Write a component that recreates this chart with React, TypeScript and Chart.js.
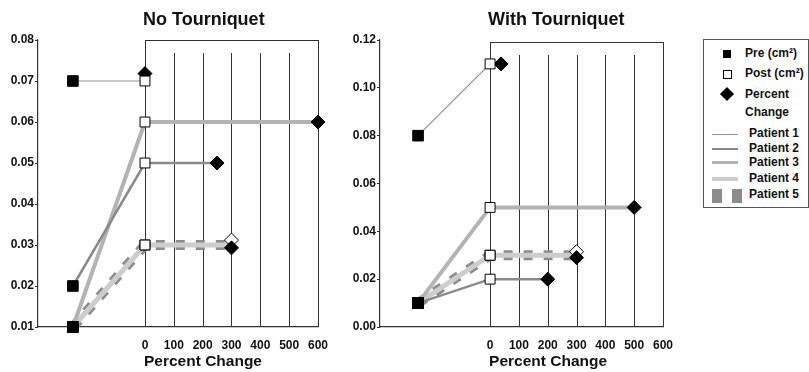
import React, { useEffect, useRef } from "react";
import { Chart, registerables } from "chart.js";
Chart.register(...registerables);

const FONT = "'Liberation Sans', Arial, Helvetica, sans-serif";
Chart.defaults.font.family = FONT;

const PATIENTS = ["Patient 1", "Patient 2", "Patient 3", "Patient 4", "Patient 5"];
const PRE_X = -250; // position of the "Pre" column on the percent-change scale
const PCT_TICKS = [0, 100, 200, 300, 400, 500, 600];

// No Tourniquet
const NO_PRE = [0.07, 0.02, 0.01, 0.01, 0.01];
const NO_POST = [0.07, 0.05, 0.06, 0.03, 0.03];
const NO_PCT = [0, 250, 600, 300, 300];
const NO_PCT_Y = [0.0718, 0.05, 0.06, 0.0312, 0.0293];
const NO_Y_TICKS = [0.01, 0.02, 0.03, 0.04, 0.05, 0.06, 0.07, 0.08];

// With Tourniquet
const WITH_PRE = [0.08, 0.01, 0.01, 0.01, 0.01];
const WITH_POST = [0.11, 0.02, 0.05, 0.03, 0.03];
const WITH_PCT = [38, 200, 500, 300, 300];
const WITH_PCT_Y = [0.11, 0.02, 0.05, 0.0315, 0.029];
const WITH_Y_TICKS = [0, 0.02, 0.04, 0.06, 0.08, 0.1, 0.12];

const LINE_COLORS = ["#939393", "#8a8a8a", "#b3b3b3", "#cdcdcd", "#8c8c8c"];
const LINE_WIDTHS = [1.2, 2.5, 4, 5, 10];
const LEGEND_WIDTHS = [1, 2, 3, 4];
const LINE_DASHES: number[][] = [[], [], [], [], [9, 11]];
const DIAMOND_FILLS = ["#000", "#000", "#000", "#fff", "#000"];

const decor = {
  id: "decor",
  beforeDatasetsDraw(chart: any, _a: any, opts: any) {
    const { ctx, chartArea, scales } = chart;
    const x = scales.x;
    ctx.save();
    ctx.strokeStyle = "#333";
    ctx.lineWidth = 1;
    const topY = chartArea.top + (opts.boxOffset || 0);
    PCT_TICKS.forEach((v, i) => {
      const px = Math.round(x.getPixelForValue(v)) + 0.5;
      const edge = i === 0 || i === PCT_TICKS.length - 1;
      ctx.beginPath();
      ctx.moveTo(px, edge ? topY : topY + 13);
      ctx.lineTo(px, chartArea.bottom);
      ctx.stroke();
    });
    ctx.beginPath();
    ctx.moveTo(Math.round(x.getPixelForValue(0)) + 0.5, Math.round(topY) + 0.5);
    ctx.lineTo(Math.round(x.getPixelForValue(600)) + 0.5, Math.round(topY) + 0.5);
    ctx.stroke();
    ctx.restore();
  },
  afterDraw(chart: any, _a: any, opts: any) {
    const { ctx, chartArea, scales } = chart;
    const x0 = scales.x.getPixelForValue(0) - 2;
    ctx.save();
    ctx.fillStyle = "#111";
    ctx.textAlign = "left";
    ctx.textBaseline = "middle";
    ctx.font = `bold 18px ${FONT}`;
    ctx.fillText(opts.title, x0, 20);
    ctx.font = `bold 15.5px ${FONT}`;
    ctx.fillText("Percent Change", x0 + 1, chartArea.bottom + 35);
    ctx.restore();
  },
};

type PanelProps = {
  title: string;
  pre: number[];
  post: number[];
  pct: number[];
  pctY: number[];
  yTicks: number[];
  xMin: number;
  yWidth: number;
  padRight: number;
  boxOffset: number;
  left: number;
  width: number;
};

function Panel(p: PanelProps) {
  const ref = useRef<HTMLCanvasElement>(null);
  useEffect(() => {
    const lineSets = PATIENTS.map((name, i) => ({
      label: name,
      data: [
        { x: PRE_X, y: p.pre[i] },
        { x: 0, y: p.post[i] },
        { x: p.pct[i], y: p.post[i] },
      ],
      showLine: true,
      pointRadius: 0,
      borderColor: LINE_COLORS[i],
      backgroundColor: LINE_COLORS[i],
      borderWidth: LINE_WIDTHS[i],
      borderDash: LINE_DASHES[i],
      borderCapStyle: "butt",
      order: i + 1,
      clip: false,
    }));
    const markerSets = [
      {
        label: "Post",
        data: p.post.map((v) => ({ x: 0, y: v })),
        pointStyle: "rect",
        pointRadius: 7,
        pointBackgroundColor: "#fff",
        pointBorderColor: "#000",
        pointBorderWidth: 1,
        showLine: false,
        order: -2,
        clip: false,
      },
      {
        label: "Pre",
        data: p.pre.map((v) => ({ x: PRE_X, y: v })),
        pointStyle: "rect",
        pointRadius: 7.5,
        pointBackgroundColor: "#000",
        pointBorderColor: "#000",
        pointBorderWidth: 1,
        showLine: false,
        order: -1,
        clip: false,
      },
      {
        label: "Percent Change",
        data: p.pct.map((v, i) => ({ x: v, y: p.pctY[i] })),
        pointStyle: "rectRot",
        pointRadius: 7,
        pointBackgroundColor: DIAMOND_FILLS,
        pointBorderColor: "#000",
        pointBorderWidth: 1,
        showLine: false,
        order: 0,
        clip: false,
      },
    ];
    const chart = new Chart(ref.current!, {
      type: "scatter",
      data: { datasets: [...markerSets, ...lineSets] as any },
      plugins: [decor],
      options: {
        animation: false,
        responsive: false,
        maintainAspectRatio: false,
        layout: { padding: { top: 40, right: p.padRight, left: 0, bottom: 0 } },
        plugins: {
          legend: { display: false },
          tooltip: { enabled: false },
          title: { display: false },
          decor: { title: p.title, boxOffset: p.boxOffset },
        } as any,
        scales: {
          x: {
            type: "linear",
            min: p.xMin,
            max: 600,
            afterBuildTicks: (s: any) => {
              s.ticks = PCT_TICKS.map((v) => ({ value: v }));
            },
            afterFit: (s: any) => {
              s.height = 45;
            },
            grid: { display: false },
            border: { display: true, color: "#333", width: 1.2 },
            ticks: {
              padding: 3,
              color: "#111",
              font: { size: 12, weight: "bold" },
              maxRotation: 0,
              callback: (v: any) => String(v),
            },
          },
          y: {
            type: "linear",
            min: p.yTicks[0],
            max: p.yTicks[p.yTicks.length - 1],
            afterBuildTicks: (s: any) => {
              s.ticks = p.yTicks.map((v) => ({ value: v }));
            },
            afterFit: (s: any) => {
              s.width = p.yWidth;
            },
            grid: { drawOnChartArea: false, drawTicks: true, tickLength: 3, color: "#333" },
            border: { display: true, color: "#333", width: 1.2 },
            ticks: {
              padding: 1,
              color: "#111",
              font: { size: 12, weight: "bold" },
              callback: (v: any) => Number(v).toFixed(2),
            },
          },
        },
      } as any,
    });
    return () => chart.destroy();
  }, []);
  return (
    <canvas
      ref={ref}
      width={p.width}
      height={372}
      style={{ position: "absolute", left: p.left, top: 0, width: p.width, height: 372 }}
    />
  );
}

const LEGEND_MARKERS = ["Pre (cm²)", "Post (cm²)", "Percent", "Change"];

function Legend() {
  const text: React.CSSProperties = {
    position: "absolute",
    left: 41,
    font: `bold 12px ${FONT}`,
    color: "#111",
    lineHeight: "14px",
    whiteSpace: "nowrap",
  };
  const lineYs = [94, 109, 122, 139];
  const textTops = [86, 101, 115, 131, 147];
  return (
    <div
      style={{
        position: "absolute",
        left: 703,
        top: 39,
        width: 104,
        height: 167,
        border: "1px solid #555",
        background: "#fff",
      }}
    >
      <div style={{ position: "absolute", left: 19, top: 10, width: 8, height: 8, background: "#000" }} />
      <div style={{ ...text, top: 6 }}>{LEGEND_MARKERS[0]}</div>
      <div
        style={{
          position: "absolute",
          left: 19,
          top: 30,
          width: 7,
          height: 7,
          background: "#fff",
          border: "1px solid #000",
        }}
      />
      <div style={{ ...text, top: 26 }}>{LEGEND_MARKERS[1]}</div>
      <div
        style={{
          position: "absolute",
          left: 18,
          top: 49,
          width: 10,
          height: 10,
          background: "#000",
          transform: "rotate(45deg)",
        }}
      />
      <div style={{ ...text, top: 47 }}>{LEGEND_MARKERS[2]}</div>
      <div style={{ ...text, top: 65 }}>{LEGEND_MARKERS[3]}</div>
      {PATIENTS.slice(0, 4).map((name, i) => (
        <React.Fragment key={name}>
          <div
            style={{
              position: "absolute",
              left: 8,
              top: lineYs[i] - LEGEND_WIDTHS[i] / 2,
              width: 26,
              height: LEGEND_WIDTHS[i],
              background: LINE_COLORS[i],
            }}
          />
          <div style={{ ...text, left: 45, top: textTops[i] }}>{name}</div>
        </React.Fragment>
      ))}
      <div style={{ position: "absolute", left: 8, top: 149, width: 10, height: 14, background: LINE_COLORS[4] }} />
      <div style={{ position: "absolute", left: 28, top: 149, width: 10, height: 14, background: LINE_COLORS[4] }} />
      <div style={{ ...text, left: 45, top: textTops[4] }}>{PATIENTS[4]}</div>
    </div>
  );
}

export default function App() {
  return (
    <div
      style={{
        position: "fixed",
        left: 0,
        top: 0,
        width: 809,
        height: 372,
        overflow: "hidden",
        background: "#fff",
      }}
    >
      <Panel
        title="No Tourniquet"
        pre={NO_PRE}
        post={NO_POST}
        pct={NO_PCT}
        pctY={NO_PCT_Y}
        yTicks={NO_Y_TICKS}
        xMin={-371}
        yWidth={38}
        padRight={16}
        boxOffset={0}
        left={0}
        width={334}
      />
      <Panel
        title="With Tourniquet"
        pre={WITH_PRE}
        post={WITH_POST}
        pct={WITH_PCT}
        pctY={WITH_PCT_Y}
        yTicks={WITH_Y_TICKS}
        xMin={-382}
        yWidth={40}
        padRight={17}
        boxOffset={2}
        left={340}
        width={340}
      />
      <Legend />
    </div>
  );
}
